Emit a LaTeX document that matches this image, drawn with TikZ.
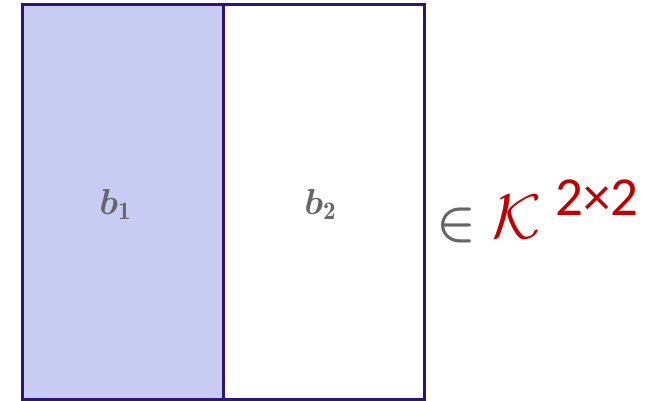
\documentclass[tikz,border=0pt]{standalone}
\usepackage{amsmath,bm}
\usepackage{fontspec}
\newfontfamily\carl{Carlito}
\definecolor{edgec}{HTML}{2E1478}
\definecolor{fillc}{HTML}{C8CCF3}
\definecolor{txtc}{HTML}{666666}
\definecolor{redc}{HTML}{C00000}
\tikzset{
  cell/.style={draw=edgec, line width=3pt, minimum width=201pt, minimum height=394pt, inner sep=0pt, outer sep=0pt},
  lab/.style={text=txtc, inner sep=0pt}
}
\begin{document}
\begin{tikzpicture}[x=1pt,y=-1pt]
\useasboundingbox (0,0) rectangle (669,401);
\node[cell, fill=fillc, anchor=north west] (c1) at (22,5) {};
\node[cell, fill=white, anchor=north west] (c2) at (223,5) {};
\node[cell, fill=none, anchor=north west] (c1b) at (22,5) {};
\node[lab, anchor=base] (b1) at (116,214) {\scalebox{3.6}{$\bm{b}_{\mathbf{1}}$}};
\node[lab, anchor=base] (b2) at (321,214) {\scalebox{3.6}{$\bm{b}_{\mathbf{2}}$}};
\node[lab, anchor=base west] (in) at (436,238) {\scalebox{5.2}{$\bm{\in}$}};
\node[text=redc, inner sep=0pt, anchor=base west] (K) at (492,238) {\scalebox{6.3}{$\mathcal{K}$}};
\node[text=redc, inner sep=0pt, anchor=base west] (sup) at (555,215) {\fontsize{55}{60}\selectfont\carl 2×2};
\end{tikzpicture}
\end{document}
